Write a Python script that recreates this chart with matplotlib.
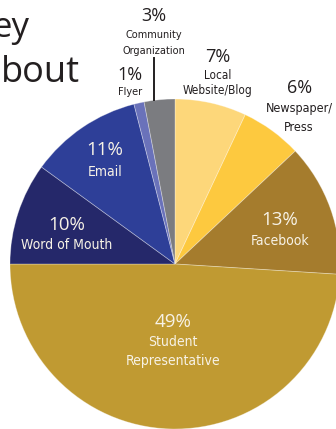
import numpy as np
import matplotlib
matplotlib.use("Agg")
from matplotlib import pyplot as plt
from matplotlib import font_manager

# survey answers, clockwise from 12 o'clock
sources = ["Local\nWebsite/Blog", "Newspaper/\nPress", "Facebook", "Student\nRepresentative",
           "Word of Mouth", "Email", "Flyer", "Community\nOrganization"]
shares = [7, 6, 13, 49, 10, 11, 1, 3]
colors = ["#fdd77a", "#fdc93f", "#a57c2d", "#c09a32", "#25286a", "#2e3f98", "#6a72ba", "#7b7c80"]

DARK = "#231f20"
LIGHT = "#f7f2e6"


def narrow_font():
    # prefer a condensed regular sans if one is installed
    cands = []
    for f in font_manager.fontManager.ttflist:
        s = str(f.stretch)
        tag = f.fname.lower()
        if f.style != "normal" or f.weight not in (400, "normal", "regular"):
            continue
        if "condensed" in s or "narrow" in tag or "condensed" in tag:
            if "semi" in tag or "extra" in tag or "ultra" in tag or "light" in tag:
                continue
            cands.append(f.fname)
    cands.sort(key=lambda p: ("liberation" not in p.lower(), "noto" not in p.lower(), p))
    if cands:
        return font_manager.FontProperties(fname=cands[0])
    return font_manager.FontProperties(family="Roboto")


name_font = narrow_font()
pct_font = font_manager.FontProperties(family=["Open Sans", "DejaVu Sans"])

W, H = 336, 429
fig = plt.figure(figsize=(W / 100, H / 100), dpi=100)
ax = fig.add_axes([0, 0, 1, 1])

cx, cy, R = 175, H - 264, 165
wedges, _ = ax.pie(shares, colors=colors, startangle=90, counterclock=False,
                   center=(cx, cy), radius=R, frame=True,
                   wedgeprops=dict(edgecolor=(1, 1, 1, 0.35), linewidth=0.6))
ax.set_xlim(0, W)
ax.set_ylim(0, H)
ax.set_aspect("equal")
ax.axis("off")

# label layout per slice:
# (radius of the % label / R, angle shift, inside?, % size, name size, drop to 1st name line, line step)
layout = [
    (1.28, 1.0, False, 13, 8.5, 18, 15),
    (1.305, 0.8, False, 13, 9.0, 20, 19),
    (0.69, 3.2, True, 13.5, 10, 21, 19),
    (0.352, 0.0, True, 13.5, 10, 20, 19),
    (0.70, -1.9, True, 13.5, 10, 20, 19),
    (0.81, -2.6, True, 13.5, 10, 22, 19),
    (1.18, 0.8, False, 13, 7.8, 17, 15),
    (1.51, -0.6, False, 13, 7.8, 19, 16),
]

for w, name, pct, (rf, dth, inside, fs_p, fs_n, d1, step) in zip(wedges, sources, shares, layout):
    ang = np.deg2rad((w.theta1 + w.theta2) / 2 + dth)
    x = cx + rf * R * np.cos(ang)
    y = cy + rf * R * np.sin(ang)
    col = LIGHT if inside else DARK
    ax.text(x, y, f"{pct}%", ha="center", va="center", color=col,
            fontproperties=pct_font, fontsize=fs_p)
    for k, line in enumerate(name.split("\n")):
        ax.text(x, y - d1 - k * step, line, ha="center", va="center", color=col,
                fontproperties=name_font, fontsize=fs_n)
    if name.startswith("Community"):
        lead_x = x

# leader line from the community label down to the rim
ax.plot([lead_x, lead_x], [cy + np.sqrt(R**2 - (lead_x - cx) ** 2), H - 58], color=DARK, lw=1.4)

# title, cut off at the left edge
ax.text(29, H - 37, "ey", ha="right", va="baseline", color=DARK,
        fontproperties=pct_font, fontsize=25)
ax.text(80, H - 82, "bout", ha="right", va="baseline", color=DARK,
        fontproperties=pct_font, fontsize=26)

fig.savefig("out.png", dpi=100)
